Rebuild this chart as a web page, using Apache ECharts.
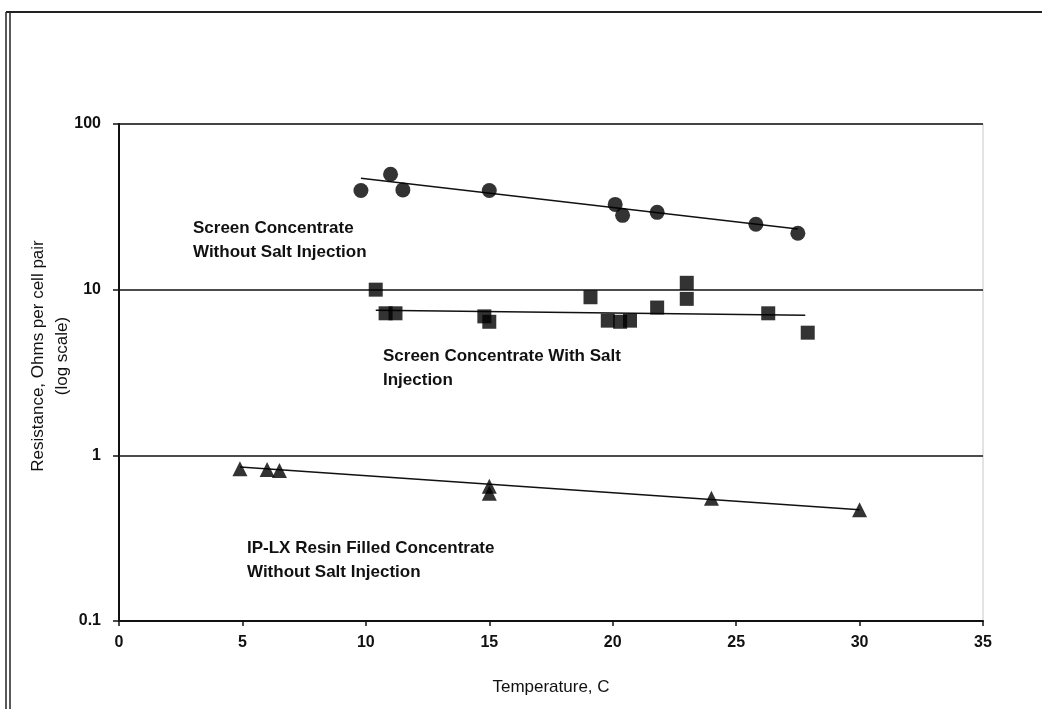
<!DOCTYPE html>
<html>
<head>
<meta charset="utf-8">
<script src="https://cdn.jsdelivr.net/npm/echarts@6/dist/echarts.min.js"></script>
<style>
html,body{margin:0;padding:0;background:#fff;}
#c{width:1042px;height:709px;}
</style>
</head>
<body>
<div id="c"></div>
<script>
// Screen Concentrate Without Salt Injection (circles)
const circleT = [9.8, 11.0, 11.5, 15.0, 20.1, 20.4, 21.8, 25.8, 27.5];
const circleR = [39.7, 49.7, 40.0, 39.7, 32.7, 28.1, 29.3, 24.8, 21.9];
const circleTrendT = [9.8, 27.5];
const circleTrendR = [47.0, 23.2];

// Screen Concentrate With Salt Injection (squares)
const squareT = [10.4, 10.8, 11.2, 14.8, 15.0, 19.1, 19.8, 20.3, 20.7, 21.8, 23.0, 23.0, 26.3, 27.9];
const squareR = [10.0, 7.2, 7.2, 6.9, 6.4, 9.0, 6.5, 6.4, 6.5, 7.8, 11.0, 8.8, 7.2, 5.5];
const squareTrendT = [10.4, 27.8];
const squareTrendR = [7.5, 7.0];

// IP-LX Resin Filled Concentrate Without Salt Injection (triangles)
const triT = [4.9, 6.0, 6.5, 15.0, 15.0, 24.0, 30.0];
const triR = [0.83, 0.82, 0.81, 0.65, 0.59, 0.55, 0.47];
const triTrendT = [4.9, 30.0];
const triTrendR = [0.85, 0.47];

const xTicks = [0, 5, 10, 15, 20, 25, 30, 35];
const yTicks = [0.1, 1, 10, 100];

const labelCircle = 'Screen Concentrate\nWithout Salt Injection';
const labelSquare = 'Screen Concentrate With Salt\nInjection';
const labelTri = 'IP-LX Resin Filled Concentrate\nWithout Salt Injection';
const xTitle = 'Temperature, C';
const yTitle = 'Resistance, Ohms per cell pair\n(log scale)';

const zip = (a, b) => a.map((v, i) => [v, b[i]]);
const FONT = 'Liberation Sans';

const chart = echarts.init(document.getElementById('c'), null, {renderer: 'canvas'});

const scatterBase = {type: 'scatter', symbolSize: 15, itemStyle: {color: '#000'}, z: 3};
const trendBase = {type: 'line', symbol: 'none', lineStyle: {color: '#111', width: 1.5}, z: 2};

const annText = (x, y, text) => ({
  type: 'text', left: x, top: y,
  style: {text: text, font: 'bold 17px "' + FONT + '"', fill: '#111', lineHeight: 24}
});

chart.setOption({
  backgroundColor: '#fff',
  animation: false,
  grid: {left: 119, top: 124, right: 59, bottom: 88, show: true, borderColor: '#c8c8c8', borderWidth: 1},
  xAxis: {
    type: 'value', min: 0, max: 35, interval: 5,
    name: xTitle, nameLocation: 'middle', nameGap: 58,
    nameTextStyle: {fontFamily: FONT, fontSize: 17, color: '#111'},
    axisLine: {show: true, lineStyle: {color: '#111', width: 2}},
    axisTick: {show: true, length: 5, lineStyle: {color: '#111', width: 1.5}},
    axisLabel: {fontFamily: FONT, fontSize: 16, fontWeight: 'bold', color: '#111', margin: 14,
      formatter: v => xTicks.includes(v) ? String(v) : ''},
    splitLine: {show: false}
  },
  yAxis: {
    type: 'log', logBase: 10, min: 0.1, max: 100,
    axisLine: {show: true, lineStyle: {color: '#111', width: 2}},
    axisTick: {show: true, length: 6, lineStyle: {color: '#111', width: 1.5}},
    axisLabel: {fontFamily: FONT, fontSize: 16, fontWeight: 'bold', color: '#111', margin: 18,
      formatter: v => { const t = yTicks.find(k => Math.abs(k - v) / k < 1e-6); return t === undefined ? '' : String(t); }},
    splitLine: {show: true, lineStyle: {color: '#111', width: 1.5}},
    minorTick: {show: false}
  },
  graphic: [
    {type: 'line', shape: {x1: 6, y1: 12, x2: 1042, y2: 12}, style: {stroke: '#222', lineWidth: 2}},
    {type: 'line', shape: {x1: 6, y1: 12, x2: 6, y2: 709}, style: {stroke: '#222', lineWidth: 1.5}},
    {type: 'line', shape: {x1: 10, y1: 12, x2: 10, y2: 709}, style: {stroke: '#222', lineWidth: 1.5}},
    {type: 'text', x: 50, y: 356, rotation: Math.PI / 2,
      style: {text: yTitle, font: '17px "' + FONT + '"', fill: '#111', lineHeight: 24,
        textAlign: 'center', textVerticalAlign: 'middle'}},
    annText(193, 216, labelCircle),
    annText(383, 344, labelSquare),
    annText(247, 536, labelTri)
  ],
  series: [
    Object.assign({}, trendBase, {data: zip(circleTrendT, circleTrendR)}),
    Object.assign({}, trendBase, {data: zip(squareTrendT, squareTrendR)}),
    Object.assign({}, trendBase, {data: zip(triTrendT, triTrendR)}),
    Object.assign({}, scatterBase, {symbol: 'circle', data: zip(circleT, circleR)}),
    Object.assign({}, scatterBase, {symbol: 'rect', symbolSize: 14, data: zip(squareT, squareR)}),
    Object.assign({}, scatterBase, {symbol: 'triangle', symbolSize: 15, data: zip(triT, triR)})
  ]
});
</script>
</body>
</html>
